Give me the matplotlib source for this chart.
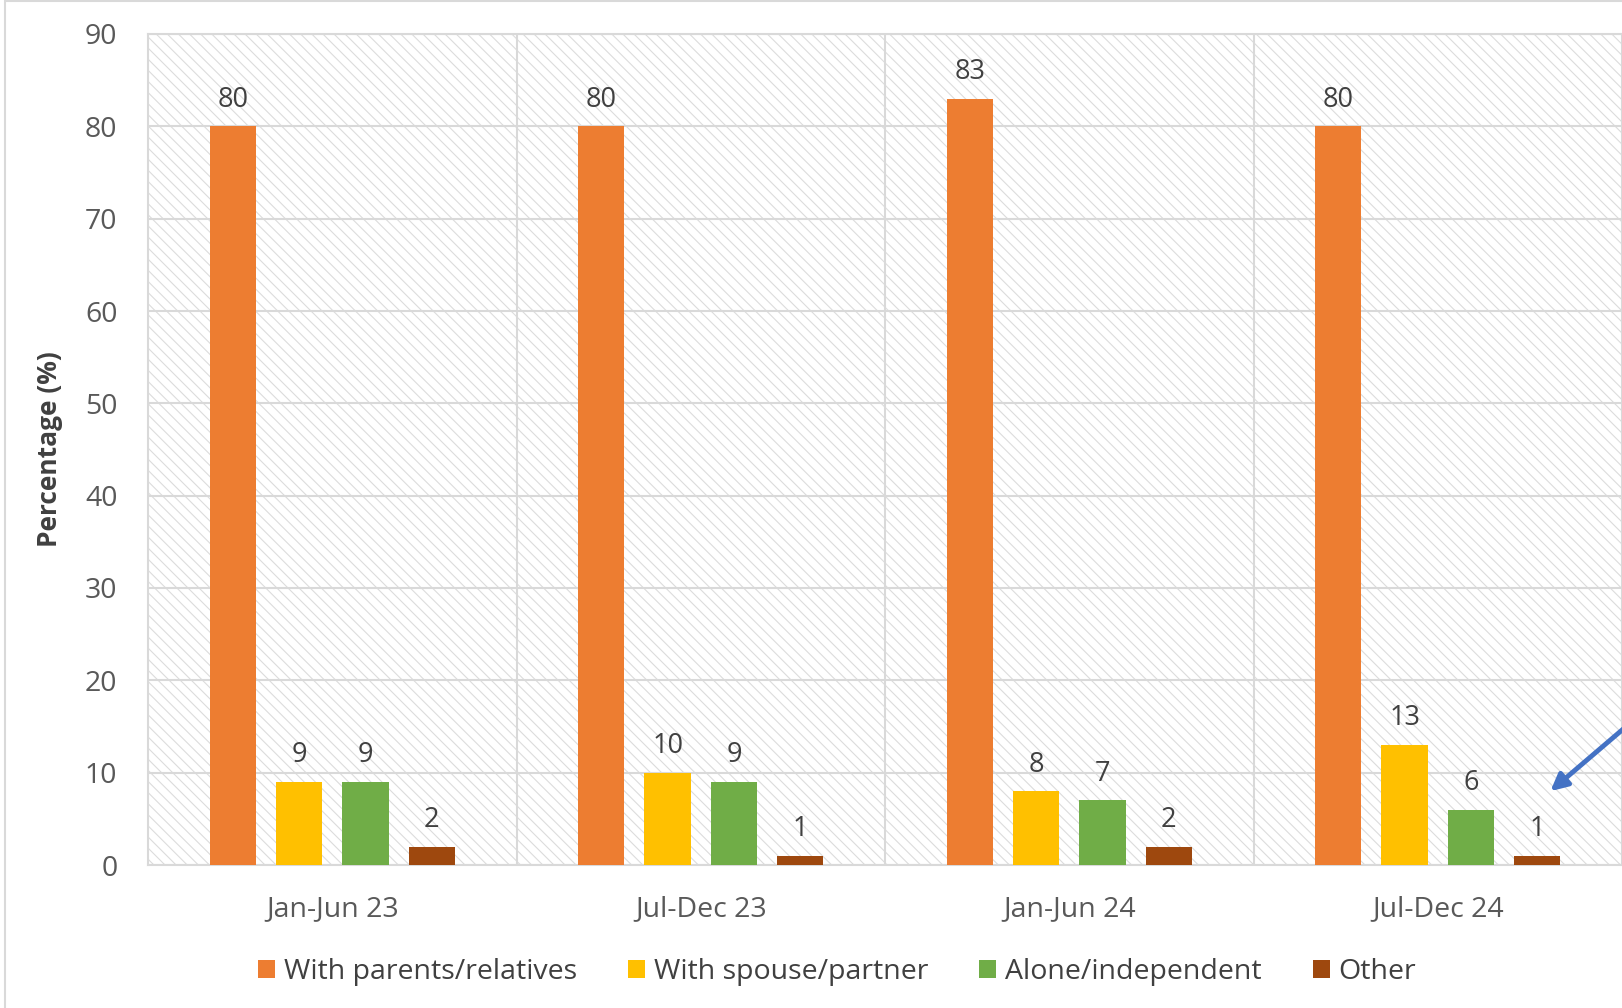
import matplotlib.pyplot as plt
import numpy as np
from matplotlib.patches import Rectangle

periods = ['Jan-Jun 23', 'Jul-Dec 23', 'Jan-Jun 24', 'Jul-Dec 24']
groups = ['With parents/relatives', 'With spouse/partner', 'Alone/independent', 'Other']
parents = [80, 80, 83, 80]
spouse = [9, 10, 8, 13]
alone = [9, 9, 7, 6]
other = [2, 1, 2, 1]
colors = ['#ed7d31', '#ffc000', '#70ad47', '#9e480e']

plt.rcParams['font.family'] = ['Open Sans', 'DejaVu Sans']
plt.rcParams['hatch.color'] = '#dcdcdc'
plt.rcParams['hatch.linewidth'] = 0.8

fig = plt.figure(figsize=(16.22, 10.08), dpi=100)
ax = fig.add_axes([148 / 1622, 1 - 865 / 1008, 1474 / 1622, 831 / 1008])

# hatched plot background
ax.add_patch(Rectangle((0, 0), 1, 1, transform=ax.transAxes, facecolor='white',
                       edgecolor='#dcdcdc', hatch='\\\\\\', lw=0, zorder=0))

x = np.arange(len(periods))
width = 0.126
step = 0.18
series = [parents, spouse, alone, other]
for i, (vals, name, c) in enumerate(zip(series, groups, colors)):
    pos = x + (i - 1.5) * step
    bars = ax.bar(pos, vals, width, color=c, label=name, zorder=3)
    ax.bar_label(bars, padding=9, fontsize=19.5, color='#404040')

ax.set_xlim(-0.5, len(periods) - 0.5)
ax.set_ylim(0, 90)
ax.set_yticks(range(0, 91, 10))
ax.set_xticks(x)
ax.set_xticklabels(periods)
ax.tick_params(axis='both', length=0, labelsize=20.5, colors='#595959')
ax.tick_params(axis='x', pad=22)
ax.tick_params(axis='y', pad=22)

ax.grid(axis='y', color='#d9d9d9', lw=1.5, zorder=1)
for b in x[:-1] + 0.5:
    ax.axvline(b, color='#d9d9d9', lw=1.5, zorder=1)
for s in ax.spines.values():
    s.set_color('#d9d9d9')
    s.set_linewidth(1.5)

ax.set_ylabel('Percentage (%)', fontsize=19, fontweight='bold', color='#404040', labelpad=16)

# arrow pointing at the last "Other" bar
last = x[-1] + 1.5 * step
ax.annotate('', xy=(last + 0.03, other[-1] + 6.8), xytext=(last + 0.3, other[-1] + 16),
            arrowprops=dict(arrowstyle='-|>,head_length=1.0,head_width=0.5',
                            color='#4472c4', lw=3.5), annotation_clip=False, zorder=5)

fig.legend(loc='center', bbox_to_anchor=(0.516, 0.036), ncol=4, frameon=False,
           fontsize=20.5, labelcolor='#404040', handlelength=0.6, handleheight=0.6,
           handletextpad=0.3, columnspacing=1.8)

# outer chart frame
fig.add_artist(Rectangle((5 / 1622, -0.01), 1.1, 1 - 1 / 1008 + 0.01, transform=fig.transFigure,
                         fill=False, edgecolor='#d9d9d9', lw=1.5))

fig.savefig('out.png', dpi=100)
